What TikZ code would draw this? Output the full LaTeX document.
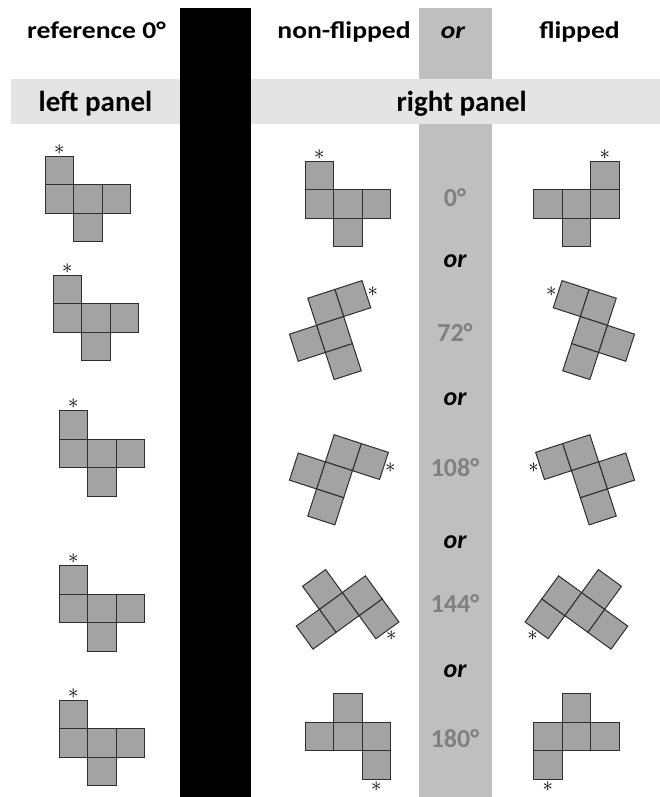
\documentclass[tikz,border=0pt]{standalone}
\usepackage{fontspec}
\setmainfont{Carlito}
\newfontfamily\hdrfont{Carlito}[FakeStretch=1.15]
\usetikzlibrary{calc}

% Colour definitions
\definecolor{bandgrey}{HTML}{E4E4E4}
\definecolor{colgrey}{HTML}{BFBFBF}
\definecolor{cellgrey}{HTML}{A3A3A3}
\definecolor{edgegrey}{HTML}{2E2E2E}
\definecolor{deggrey}{HTML}{808080}

\tikzset{
  cell/.style={fill=cellgrey, draw=edgegrey, line width=1pt},
  starmark/.style={inner sep=0pt, font=\fontsize{20}{20}\selectfont},
  hdr/.style={anchor=base, inner sep=0pt, font=\hdrfont\fontsize{24}{28}\selectfont\bfseries},
  panel/.style={anchor=base, inner sep=0pt, font=\fontsize{29}{34}\selectfont\bfseries},
  deglbl/.style={anchor=base, inner sep=0pt, text=deggrey, font=\fontsize{26}{30}\selectfont\bfseries},
  orlbl/.style={anchor=base, inner sep=0pt, font=\fontsize{26}{30}\selectfont\bfseries\itshape}
}

% One piece, centred on its middle cell (cell side 28.5), star above the top cell
\newcommand{\fpiece}[1]{%
  \foreach \cx/\cy in {-1/-1, -1/0, 0/0, 1/0, 0/1}
    \draw[cell] ({\cx*28.5-14.25},{\cy*28.5-14.25}) rectangle ++(28.5,28.5);
  \node[starmark] (#1) at (-28.5,-49.5) {$\ast$};
}

\begin{document}
\begin{tikzpicture}[x=1pt, y=-1pt]

        \useasboundingbox (0,0) rectangle (660,797);
        \fill[white] (0,0) rectangle (660,797);

        % === Background bars ===
        \fill[black] (180,8) rectangle (251,797);
        \fill[colgrey] (419,8) rectangle (492,797);
        \fill[bandgrey] (11,79) rectangle (180,124);
        \fill[bandgrey] (251,79) rectangle (660,124);

        % === Headings ===
        \node[hdr] (refhead) at (96.5,38.5) {reference 0°};
        \node[hdr] (nonfliphead) at (344,38.5) {non-flipped};
        \node[hdr, font=\hdrfont\fontsize{24}{28}\selectfont\bfseries\itshape] (orhead) at (453,38.5) {or};
        \node[hdr] (fliphead) at (579.5,38.5) {flipped};
        \node[panel] (leftpanel) at (95.5,111.5) {left panel};
        \node[panel] (rightpanel) at (461.7,111.5) {right panel};

        % === Left panel: reference pieces ===
        \foreach \i/\px/\py in {1/87.75/198.75, 2/95.75/317.75, 3/101.75/453.5,
                                4/101.75/608.5, 5/101.75/742.75}{
            \begin{scope}[shift={(\px,\py)}]
                \fpiece{ref\i}
            \end{scope}
        }

        % === Right panel: non-flipped (left) and flipped (mirrored) ===
        \foreach \ang/\px/\py in {0/347.75/203.75, 72/334.5/334.5, 108/334.5/479.8,
                                  144/339.2/612.5, 180/347.75/736.7}{
            \begin{scope}[shift={(\px,\py)}, rotate=-\ang]
                \fpiece{nf\ang}
            \end{scope}
            \begin{scope}[shift={(924-\px,\py)}, xscale=-1, rotate=-\ang]
                \fpiece{fl\ang}
            \end{scope}
        }

        % === Middle column: angles and "or" ===
        \foreach \lbl/\py in {0/206.7, 72/341.7, 108/476.7, 144/612.7, 180/747.7}
            \node[deglbl] (deg\lbl) at (455,\py) {\lbl°};
        \foreach \k/\py in {1/267, 2/405, 3/548, 4/677}
            \node[orlbl] (or\k) at (455,\py) {or};

\end{tikzpicture}
\end{document}
